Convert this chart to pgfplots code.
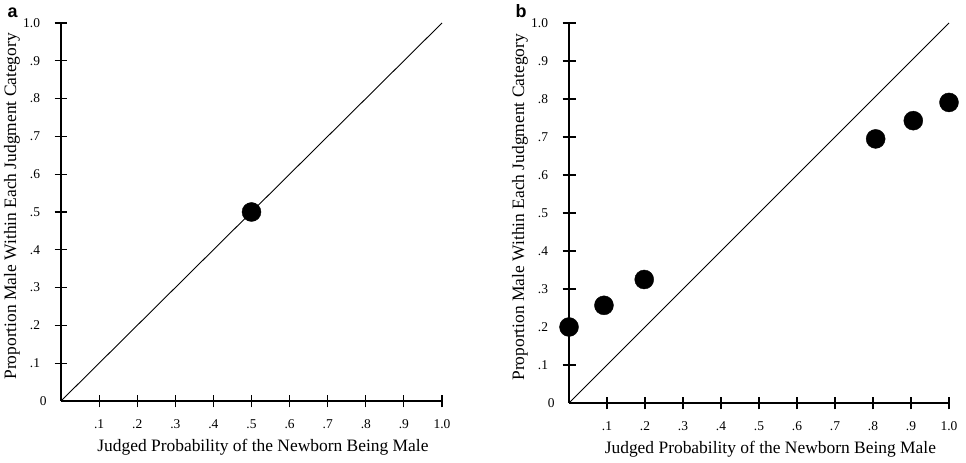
\documentclass[border=0pt]{standalone}
\usepackage{pgfplots}
\pgfplotsset{compat=1.18}
\usepackage{fontspec}
\setmainfont{Liberation Serif}
\setsansfont{Liberation Sans}
\pgfplotsset{panel/.style={
  scale only axis, width=380bp, height=378bp,
  xmin=0, xmax=1, ymin=0, ymax=1,
  axis lines=left, axis line style={-, line width=1.5bp},
  tick align=center, major tick length=13bp, tick style={line width=1.1bp, black},
  xtick={0.1,0.2,0.3,0.4,0.5,0.6,0.7,0.8,0.9,1.0},
  ytick={0.1,0.2,0.3,0.4,0.5,0.6,0.7,0.8,0.9,1.0},
  xticklabels={.1,.2,.3,.4,.5,.6,.7,.8,.9,1.0},
  yticklabels={.1,.2,.3,.4,.5,.6,.7,.8,.9,1.0},
  extra y ticks={0}, extra y tick labels={0},
  extra y tick style={major tick length=0pt},
  /pgf/number format/assume math mode=true,
  ticklabel style={font=\fontsize{13.5}{15}\selectfont},
  xticklabel style={anchor=north, yshift=-9bp},
  yticklabel style={anchor=east, xshift=-11bp},
  xlabel={Judged Probability of the Newborn Being Male},
  ylabel={Proportion Male Within Each Judgment Category},
  label style={font=\fontsize{17.5}{20}\selectfont},
  xlabel style={at={(axis description cs:0.53,-0.122)}, anchor=center},
  ylabel style={at={(axis description cs:-0.129,0.515)}, anchor=center, rotate=0},
  clip=false,
}}
\begin{document}
\begin{tikzpicture}
\path[use as bounding box] (0,0) rectangle (966bp,463bp);
\begin{axis}[panel, at={(61bp,62bp)}, anchor=south west, width=381bp]
\addplot[black, line width=0.9bp, no marks] coordinates {(0,0) (1,1)};
\addplot[only marks, mark=*, mark size=9.5bp, black] coordinates {(0.5,0.5)};
\end{axis}
\begin{axis}[panel, at={(569bp,60bp)}, anchor=south west, width=380bp, height=380bp]
\addplot[black, line width=0.9bp, no marks] coordinates {(0,0) (1,1)};
\addplot[only marks, mark=*, mark size=9.5bp, black] coordinates {
(0,0.20) (0.092,0.257) (0.198,0.325) (0.807,0.695) (0.906,0.743) (1.0,0.791)};
\end{axis}
\node[font=\sffamily\bfseries\fontsize{18}{18}\selectfont, anchor=base west] at (4bp,445bp) {a};
\node[font=\sffamily\bfseries\fontsize{18}{18}\selectfont, anchor=base west] at (512bp,445bp) {b};
\end{tikzpicture}
\end{document}
